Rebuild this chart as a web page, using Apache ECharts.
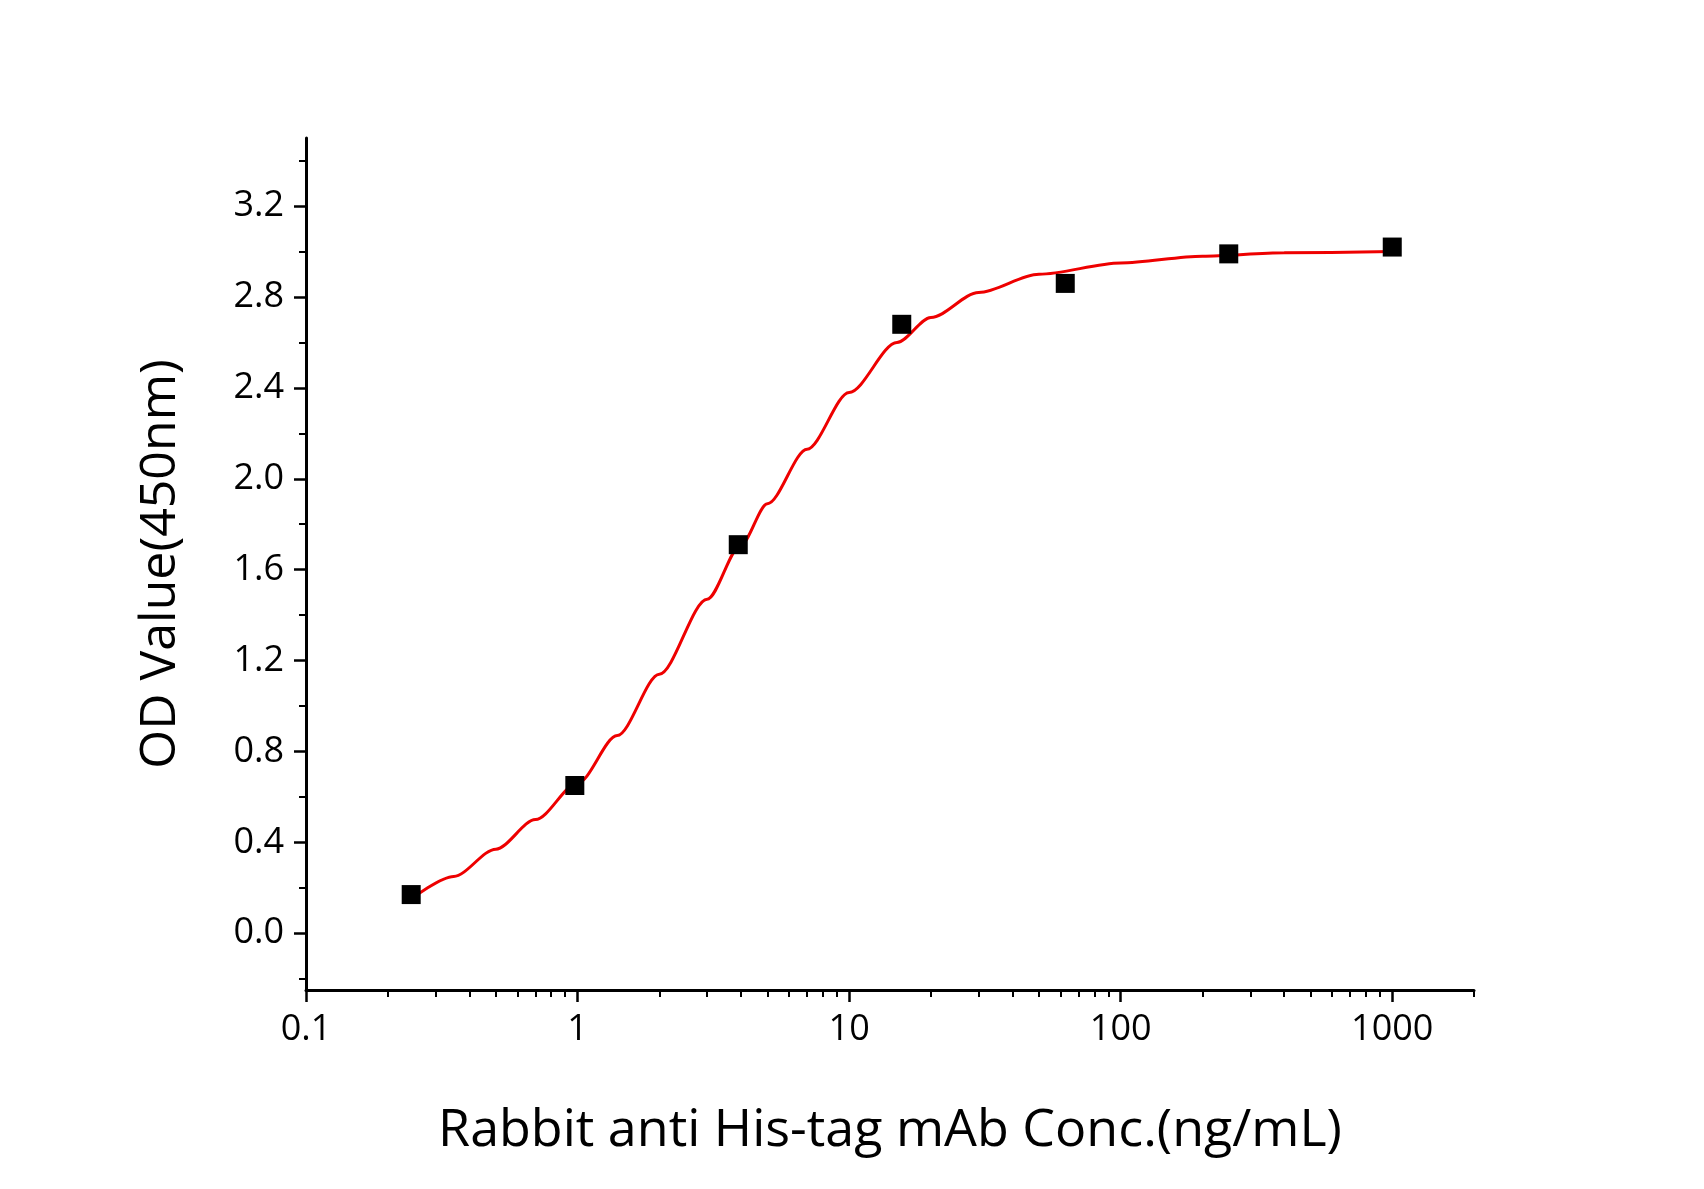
<!DOCTYPE html><html><head><meta charset="utf-8">
<script src="https://cdn.jsdelivr.net/npm/echarts@6/dist/echarts.min.js"></script>
<style>html,body{margin:0;background:#fff}#c{width:1704px;height:1189px}</style></head><body><div id="c"></div><script>
const concX=[0.244,0.977,3.906,15.625,62.5,250,1000];
const odY=[0.17,0.65,1.71,2.68,2.86,2.99,3.02];
const fitX=[0.244,0.35,0.5,0.7,1,1.4,2,3,4,5,7,10,15,20,30,50,100,200,400,1000];
const fitY=[0.15,0.25,0.37,0.50,0.66,0.87,1.14,1.47,1.71,1.89,2.13,2.38,2.60,2.71,2.82,2.90,2.95,2.98,2.995,3.0];
const xLabels=[0.1,1,10,100,1000];
const yLabels=[0,0.4,0.8,1.2,1.6,2.0,2.4,2.8,3.2];
const yMinor=[-0.2,0.2,0.6,1.0,1.4,1.8,2.2,2.6,3.0,3.4];
const xMinor=[];for(let d=0.1;d<2000;d*=10){for(let k=2;k<=9;k++){const v=+(d*k).toPrecision(3);if(v<=2000)xMinor.push(v);}}
const F='"Open Sans","Liberation Sans",sans-serif';
const ch=echarts.init(document.getElementById('c'));
ch.setOption({animation:false,
grid:{left:306,right:230,top:138,bottom:199},
xAxis:[{type:'log',logBase:10,min:0.1,max:2000,name:'Rabbit anti His-tag mAb Conc.(ng/mL)',nameLocation:'middle',nameGap:115,
nameTextStyle:{fontSize:52,fontFamily:F,color:'#000'},splitLine:{show:false},
axisLine:{onZero:false,lineStyle:{color:'#000',width:3}},axisTick:{length:12,lineStyle:{width:2.5,color:'#000'},customValues:xLabels},
axisLabel:{fontSize:36,fontFamily:F,color:'#000',margin:22,customValues:xLabels,formatter:v=>String(v)}},
{type:'log',logBase:10,min:0.1,max:2000,position:'bottom',axisLine:{show:false,onZero:false},axisLabel:{show:false},splitLine:{show:false},
axisTick:{length:7,lineStyle:{width:2,color:'#000'},customValues:xMinor}}],
yAxis:[{type:'value',min:-0.25,max:3.5,name:'OD Value(450nm)',nameLocation:'middle',nameGap:120,
nameTextStyle:{fontSize:50,fontFamily:F,color:'#000'},splitLine:{show:false},
axisLine:{show:true,onZero:false,lineStyle:{color:'#000',width:3}},axisTick:{show:true,inside:false,length:12,lineStyle:{width:2.5,color:'#000'},customValues:yLabels},
axisLabel:{fontSize:36,fontFamily:F,color:'#000',margin:22,customValues:yLabels,formatter:v=>v.toFixed(1)}},
{type:'value',min:-0.25,max:3.5,position:'left',axisLine:{show:false},axisLabel:{show:false},splitLine:{show:false},
axisTick:{show:true,length:7,lineStyle:{width:2,color:'#000'},customValues:yMinor}}],
series:[{type:'line',data:fitX.map((x,i)=>[x,fitY[i]]),smooth:0.3,smoothMonotone:'x',showSymbol:false,lineStyle:{color:'#ee0000',width:3},z:2},
{type:'scatter',data:concX.map((x,i)=>[x,odY[i]]),symbol:'rect',symbolSize:19,itemStyle:{color:'#000',opacity:1},z:3}]});
</script></body></html>
